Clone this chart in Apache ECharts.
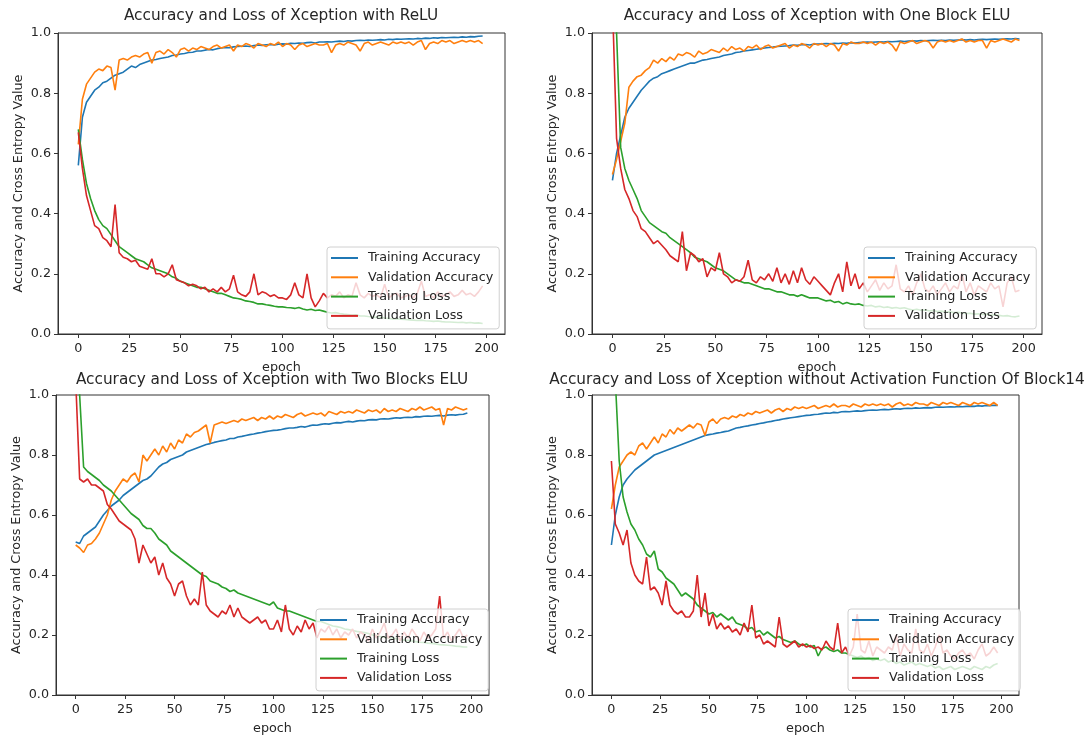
<!DOCTYPE html>
<html>
<head>
<meta charset="utf-8">
<script src="https://cdn.jsdelivr.net/npm/echarts@6.0.0/dist/echarts.min.js"></script>
<style>
  html, body { margin: 0; padding: 0; background: #fff; }
  #main { width: 1088px; height: 736px; }
</style>
</head>
<body>
<div id="main"></div>
<script>
var chart = echarts.init(document.getElementById('main'));

// epochs sampled every 2 (0..198)
var epochs = [];
for (var e = 0; e < 200; e += 2) epochs.push(e);
var xTicks = [0, 25, 50, 75, 100, 125, 150, 175, 200];
var seriesNames = ['Training Accuracy', 'Validation Accuracy', 'Training Loss', 'Validation Loss'];
var colors = ['#1f77b4', '#ff7f0e', '#2ca02c', '#d62728'];
var titles = [
    'Accuracy and Loss of Xception with ReLU',
    'Accuracy and Loss of Xception with One Block ELU',
    'Accuracy and Loss of Xception with Two Blocks ELU',
    'Accuracy and Loss of Xception without Activation Function Of Block14'
];

/****** ReLU ******/
var reluTrainAcc = [
    0.56, 0.72, 0.77, 0.79, 0.81, 0.82, 0.835, 0.84, 0.85, 0.86,
    0.865, 0.87, 0.88, 0.89, 0.885, 0.895, 0.90, 0.905, 0.91, 0.912,
    0.915, 0.918, 0.92, 0.925, 0.927, 0.93, 0.932, 0.935, 0.936, 0.94,
    0.94, 0.943, 0.945, 0.944, 0.948, 0.95, 0.952, 0.951, 0.954, 0.955,
    0.956, 0.957, 0.955, 0.958, 0.96, 0.959, 0.961, 0.962, 0.96, 0.963,
    0.964, 0.963, 0.966, 0.965, 0.967, 0.966, 0.968, 0.969, 0.967, 0.97,
    0.97, 0.971, 0.97, 0.972, 0.973, 0.972, 0.974, 0.973, 0.975, 0.976,
    0.975, 0.977, 0.976, 0.977, 0.978, 0.977, 0.979, 0.978, 0.98, 0.979,
    0.98, 0.981, 0.98, 0.982, 0.981, 0.983, 0.982, 0.984, 0.983, 0.985,
    0.984, 0.985, 0.986, 0.985, 0.987, 0.986, 0.988, 0.987, 0.989, 0.99
];
var reluValAcc = [
    0.63, 0.78, 0.83, 0.85, 0.87, 0.88, 0.875, 0.89, 0.885, 0.81,
    0.91, 0.915, 0.91, 0.92, 0.925, 0.92, 0.93, 0.935, 0.90, 0.935,
    0.94, 0.93, 0.945, 0.935, 0.92, 0.945, 0.95, 0.94, 0.95, 0.945,
    0.955, 0.95, 0.945, 0.955, 0.96, 0.95, 0.955, 0.96, 0.94, 0.96,
    0.955, 0.965, 0.96, 0.95, 0.965, 0.96, 0.955, 0.965, 0.96, 0.97,
    0.955, 0.965, 0.96, 0.945, 0.96, 0.965, 0.955, 0.96, 0.965, 0.96,
    0.96, 0.965, 0.935, 0.96, 0.965, 0.96, 0.97, 0.965, 0.96, 0.94,
    0.965, 0.97, 0.96, 0.965, 0.97, 0.965, 0.96, 0.97, 0.965, 0.97,
    0.965, 0.97, 0.96, 0.97, 0.975, 0.945, 0.965, 0.97, 0.965, 0.975,
    0.97, 0.975, 0.965, 0.97, 0.975, 0.97, 0.975, 0.97, 0.975, 0.965
];
var reluTrainLoss = [
    0.68, 0.58, 0.5, 0.45, 0.41, 0.38, 0.36, 0.35, 0.33, 0.31,
    0.29, 0.28, 0.27, 0.26, 0.25, 0.245, 0.24, 0.23, 0.22, 0.215,
    0.21, 0.205, 0.2, 0.19, 0.185, 0.175, 0.17, 0.165, 0.16, 0.155,
    0.155, 0.15, 0.145, 0.14, 0.135, 0.135, 0.13, 0.125, 0.12, 0.118,
    0.115, 0.11, 0.108, 0.105, 0.1, 0.1, 0.097, 0.095, 0.092, 0.09,
    0.09, 0.088, 0.087, 0.085, 0.088, 0.083, 0.08, 0.082, 0.078, 0.08,
    0.076, 0.072, 0.07, 0.071, 0.068, 0.066, 0.065, 0.063, 0.064, 0.06,
    0.06, 0.058, 0.057, 0.055, 0.056, 0.053, 0.052, 0.05, 0.051, 0.049,
    0.048, 0.047, 0.046, 0.045, 0.046, 0.044, 0.043, 0.042, 0.043, 0.041,
    0.04, 0.04, 0.039, 0.038, 0.039, 0.037, 0.038, 0.036, 0.037, 0.035
];
var reluValLoss = [
    0.67, 0.55, 0.46, 0.41, 0.36, 0.35, 0.32, 0.31, 0.29, 0.43,
    0.27, 0.255, 0.25, 0.24, 0.245, 0.225, 0.22, 0.215, 0.25, 0.2,
    0.2, 0.19, 0.2, 0.23, 0.18, 0.175, 0.17, 0.16, 0.165, 0.16,
    0.15, 0.155, 0.14, 0.15, 0.14, 0.155, 0.14, 0.15, 0.195, 0.14,
    0.13, 0.125, 0.14, 0.2, 0.13, 0.14, 0.135, 0.125, 0.13, 0.12,
    0.12, 0.115, 0.13, 0.17, 0.13, 0.12, 0.2, 0.12, 0.09, 0.11,
    0.135, 0.12, 0.13, 0.125, 0.14, 0.12, 0.13, 0.125, 0.17, 0.13,
    0.12, 0.135, 0.125, 0.13, 0.12, 0.165, 0.12, 0.13, 0.135, 0.12,
    0.125, 0.13, 0.12, 0.135, 0.175, 0.125, 0.13, 0.12, 0.14, 0.125,
    0.13, 0.14, 0.125, 0.13, 0.145, 0.13, 0.135, 0.125, 0.14, 0.16
];

/****** One Block ELU ******/
var elu1TrainAcc = [
    0.51, 0.6, 0.66, 0.72, 0.75, 0.77, 0.79, 0.81, 0.825, 0.84,
    0.85, 0.855, 0.865, 0.87, 0.875, 0.88, 0.885, 0.89, 0.895, 0.9,
    0.9, 0.905, 0.91, 0.912, 0.915, 0.918, 0.92, 0.925, 0.928, 0.93,
    0.935, 0.937, 0.94, 0.942, 0.944, 0.946, 0.948, 0.95, 0.952, 0.953,
    0.955, 0.956, 0.957, 0.958, 0.96, 0.959, 0.961, 0.962, 0.96, 0.963,
    0.963, 0.964, 0.965, 0.964, 0.966, 0.965, 0.967, 0.966, 0.968, 0.967,
    0.968, 0.969, 0.97, 0.969, 0.97, 0.971, 0.97, 0.972, 0.971, 0.972,
    0.973, 0.972, 0.973, 0.974, 0.973, 0.975, 0.974, 0.975, 0.976, 0.975,
    0.976, 0.975, 0.977, 0.976, 0.977, 0.978, 0.977, 0.978, 0.977, 0.978,
    0.979, 0.978, 0.979, 0.98, 0.979, 0.98, 0.981, 0.98, 0.982, 0.98
];
var elu1ValAcc = [
    0.53, 0.58, 0.64, 0.7, 0.82, 0.84, 0.855, 0.86, 0.875, 0.885,
    0.91, 0.9, 0.915, 0.905, 0.92, 0.91, 0.93, 0.925, 0.935, 0.93,
    0.92, 0.94, 0.93, 0.935, 0.945, 0.94, 0.935, 0.95, 0.94, 0.955,
    0.945, 0.95, 0.94, 0.955, 0.95, 0.96, 0.945, 0.955, 0.96, 0.95,
    0.955, 0.96, 0.965, 0.95, 0.96, 0.955, 0.965, 0.96, 0.95, 0.965,
    0.96, 0.965, 0.955, 0.965, 0.96, 0.94, 0.965, 0.96, 0.97, 0.965,
    0.965, 0.97, 0.965, 0.97, 0.96, 0.97, 0.965, 0.97, 0.96, 0.94,
    0.97, 0.965, 0.97, 0.975, 0.965, 0.97, 0.975, 0.97, 0.95, 0.97,
    0.975, 0.97, 0.975, 0.97, 0.975, 0.98, 0.97, 0.975, 0.97, 0.975,
    0.975, 0.95, 0.975, 0.97, 0.975, 0.98, 0.975, 0.97, 0.98, 0.975
];
var elu1TrainLoss = [
    2.5, 1.0, 0.62, 0.55, 0.51, 0.48, 0.45, 0.41, 0.39, 0.37,
    0.36, 0.35, 0.34, 0.335, 0.32, 0.31, 0.3, 0.29, 0.28, 0.27,
    0.255, 0.25, 0.245, 0.24, 0.23, 0.22, 0.215, 0.21, 0.2, 0.19,
    0.18, 0.175, 0.17, 0.17, 0.165, 0.16, 0.155, 0.15, 0.15, 0.145,
    0.14, 0.14, 0.135, 0.13, 0.13, 0.125, 0.13, 0.125, 0.12, 0.12,
    0.12, 0.115, 0.11, 0.112, 0.105, 0.108, 0.1, 0.105, 0.1, 0.098,
    0.1, 0.095, 0.093, 0.095, 0.09, 0.092, 0.088, 0.09, 0.086, 0.088,
    0.085, 0.087, 0.083, 0.08, 0.082, 0.079, 0.08, 0.077, 0.078, 0.075,
    0.076, 0.073, 0.074, 0.071, 0.072, 0.07, 0.068, 0.069, 0.066, 0.067,
    0.065, 0.066, 0.063, 0.064, 0.062, 0.06, 0.061, 0.058, 0.057, 0.06
];
var elu1ValLoss = [
    1.1, 0.65, 0.55, 0.48, 0.45, 0.41, 0.39, 0.35, 0.34, 0.32,
    0.3, 0.31, 0.295, 0.28, 0.26, 0.25, 0.24, 0.34, 0.21, 0.27,
    0.26, 0.24, 0.25, 0.19, 0.22, 0.21, 0.27, 0.2, 0.19, 0.17,
    0.18, 0.175, 0.19, 0.245, 0.18, 0.17, 0.19, 0.18, 0.2, 0.175,
    0.22, 0.17, 0.2, 0.165, 0.21, 0.17, 0.22, 0.18, 0.165, 0.19,
    0.175, 0.16, 0.145, 0.13, 0.17, 0.2, 0.14, 0.24, 0.16, 0.2,
    0.15, 0.17, 0.14, 0.16, 0.18, 0.145, 0.17, 0.15, 0.16, 0.23,
    0.15, 0.14, 0.16, 0.13, 0.17, 0.2, 0.15, 0.14, 0.16, 0.13,
    0.15, 0.17, 0.14, 0.16, 0.15, 0.2, 0.14, 0.17, 0.13, 0.16,
    0.15, 0.14, 0.17, 0.15, 0.16, 0.09, 0.17, 0.19, 0.14, 0.145
];

/****** Two Blocks ELU ******/
var elu2TrainAcc = [
    0.51, 0.505, 0.53, 0.54, 0.55, 0.56, 0.58, 0.6, 0.615, 0.63,
    0.64, 0.65, 0.665, 0.675, 0.685, 0.695, 0.705, 0.715, 0.72, 0.73,
    0.745, 0.76, 0.77, 0.775, 0.785, 0.79, 0.795, 0.8, 0.81, 0.815,
    0.82, 0.825, 0.83, 0.835, 0.838, 0.842, 0.845, 0.848, 0.85, 0.855,
    0.855, 0.86, 0.862, 0.865, 0.868, 0.87, 0.873, 0.875, 0.878, 0.88,
    0.882, 0.883, 0.885, 0.888, 0.89, 0.89, 0.892, 0.895, 0.893, 0.897,
    0.9, 0.899, 0.902, 0.904, 0.903, 0.906, 0.908, 0.907, 0.91, 0.912,
    0.91, 0.913, 0.915, 0.914, 0.917, 0.918, 0.917, 0.92, 0.921, 0.92,
    0.922, 0.924, 0.923, 0.925, 0.926, 0.925, 0.928, 0.927, 0.929, 0.93,
    0.929, 0.931, 0.932, 0.93, 0.933, 0.934, 0.933, 0.935, 0.936, 0.94
];
var elu2ValAcc = [
    0.5, 0.49, 0.475, 0.5, 0.505, 0.52, 0.54, 0.57, 0.6, 0.65,
    0.68, 0.7, 0.72, 0.71, 0.73, 0.74, 0.71, 0.8, 0.78, 0.8,
    0.82, 0.8, 0.83, 0.81, 0.84, 0.82, 0.85, 0.84, 0.87, 0.86,
    0.875, 0.88, 0.89, 0.9, 0.84, 0.9, 0.905, 0.91, 0.905, 0.91,
    0.915, 0.91, 0.92, 0.915, 0.92, 0.925, 0.915, 0.925, 0.92, 0.93,
    0.92, 0.93, 0.925, 0.935, 0.93, 0.925, 0.935, 0.94, 0.93, 0.935,
    0.94, 0.935, 0.94, 0.93, 0.945, 0.94, 0.935, 0.945, 0.94, 0.945,
    0.94, 0.95, 0.945, 0.94, 0.95, 0.945, 0.95, 0.94, 0.955, 0.945,
    0.95, 0.945, 0.955, 0.95, 0.945, 0.955, 0.95, 0.96, 0.95, 0.955,
    0.96, 0.95, 0.955, 0.9, 0.955, 0.95, 0.96, 0.955, 0.95, 0.955
];
var elu2TrainLoss = [
    1.8, 1.0, 0.76, 0.745, 0.735, 0.725, 0.715, 0.7, 0.69, 0.68,
    0.665, 0.65, 0.635, 0.62, 0.605, 0.595, 0.585, 0.565, 0.555, 0.555,
    0.54, 0.52, 0.51, 0.5, 0.48, 0.47, 0.46, 0.45, 0.44, 0.43,
    0.42, 0.41, 0.4, 0.395, 0.38, 0.375, 0.37, 0.36, 0.355, 0.345,
    0.35, 0.34, 0.335, 0.33, 0.325, 0.32, 0.315, 0.31, 0.305, 0.3,
    0.31, 0.29, 0.285, 0.28, 0.28, 0.275, 0.27, 0.265, 0.26, 0.255,
    0.25, 0.245, 0.245, 0.24, 0.235, 0.23, 0.228, 0.225, 0.22, 0.218,
    0.215, 0.212, 0.21, 0.208, 0.205, 0.2, 0.198, 0.195, 0.193, 0.19,
    0.19, 0.188, 0.186, 0.183, 0.182, 0.18, 0.178, 0.176, 0.175, 0.173,
    0.172, 0.17, 0.168, 0.167, 0.166, 0.165, 0.163, 0.162, 0.16, 0.16
];
var elu2ValLoss = [
    1.05, 0.72, 0.71, 0.72, 0.7, 0.7, 0.69, 0.68, 0.635, 0.62,
    0.6, 0.58, 0.57, 0.56, 0.55, 0.52, 0.44, 0.5, 0.47, 0.44,
    0.46, 0.4, 0.44, 0.39, 0.37, 0.33, 0.37, 0.38, 0.33, 0.3,
    0.32, 0.3, 0.41, 0.3, 0.28, 0.27, 0.26, 0.28, 0.27, 0.3,
    0.26, 0.29, 0.26, 0.25, 0.24, 0.25, 0.26, 0.24, 0.25, 0.22,
    0.22, 0.25, 0.21, 0.3, 0.22, 0.2, 0.23, 0.21, 0.25, 0.22,
    0.24, 0.19, 0.22, 0.21, 0.23, 0.2, 0.22, 0.19, 0.21, 0.2,
    0.22, 0.19, 0.21, 0.2, 0.18, 0.22, 0.19, 0.21, 0.24, 0.19,
    0.2, 0.22, 0.18, 0.21, 0.19, 0.22, 0.2, 0.18, 0.21, 0.19,
    0.2, 0.22, 0.33, 0.19, 0.21, 0.18, 0.2, 0.22, 0.19, 0.2
];

/****** without activation of Block14 ******/
var noActTrainAcc = [
    0.5, 0.6, 0.66, 0.7, 0.72, 0.735, 0.75, 0.76, 0.77, 0.78,
    0.79, 0.8, 0.805, 0.81, 0.815, 0.82, 0.825, 0.83, 0.835, 0.84,
    0.845, 0.85, 0.855, 0.86, 0.865, 0.868, 0.87, 0.873, 0.875, 0.878,
    0.88, 0.885, 0.89, 0.892, 0.895, 0.897, 0.9, 0.902, 0.905, 0.907,
    0.91, 0.912, 0.915, 0.917, 0.92, 0.922, 0.924, 0.926, 0.928, 0.93,
    0.932, 0.933, 0.935, 0.936, 0.938, 0.94, 0.939, 0.942, 0.941, 0.944,
    0.945, 0.944, 0.946, 0.947, 0.946, 0.948, 0.949, 0.95, 0.949, 0.951,
    0.952, 0.951, 0.953, 0.954, 0.953, 0.955, 0.956, 0.955, 0.957, 0.956,
    0.957, 0.958, 0.957, 0.959, 0.96, 0.959, 0.96, 0.961, 0.96, 0.962,
    0.961, 0.962, 0.963, 0.962, 0.964, 0.963, 0.965, 0.964, 0.966, 0.965
];
var noActValAcc = [
    0.62, 0.7, 0.76, 0.78, 0.8, 0.81, 0.8, 0.83, 0.84, 0.82,
    0.84, 0.86, 0.84, 0.87, 0.86, 0.885, 0.87, 0.89, 0.88, 0.89,
    0.9, 0.89, 0.905, 0.9, 0.865, 0.91, 0.92, 0.905, 0.92, 0.925,
    0.92, 0.93, 0.925, 0.935, 0.93, 0.94, 0.935, 0.945, 0.94, 0.945,
    0.95, 0.94, 0.95, 0.955, 0.945, 0.955, 0.95, 0.96, 0.955, 0.96,
    0.955, 0.96, 0.965, 0.955, 0.96, 0.965, 0.96, 0.97, 0.96, 0.965,
    0.965, 0.96, 0.97, 0.965, 0.96, 0.97, 0.965, 0.97, 0.965, 0.97,
    0.965, 0.97, 0.96, 0.97, 0.975, 0.965, 0.97, 0.965, 0.975, 0.97,
    0.97, 0.965, 0.975, 0.97, 0.965, 0.975, 0.97, 0.975, 0.97, 0.965,
    0.975, 0.97, 0.965, 0.975, 0.97, 0.975, 0.97, 0.965, 0.975, 0.965
];
var noActTrainLoss = [
    1.6, 1.05, 0.78, 0.66, 0.61, 0.57, 0.55, 0.52, 0.5, 0.47,
    0.46, 0.48, 0.42, 0.41, 0.39, 0.38, 0.37, 0.35, 0.33, 0.34,
    0.33, 0.32, 0.3, 0.29, 0.28, 0.27, 0.275, 0.26, 0.27, 0.26,
    0.25, 0.26, 0.24, 0.235, 0.23, 0.22, 0.225, 0.21, 0.215, 0.2,
    0.21, 0.2, 0.19, 0.195, 0.185, 0.18, 0.175, 0.18, 0.17, 0.165,
    0.17, 0.16, 0.165, 0.13, 0.155, 0.16, 0.15, 0.145, 0.15, 0.14,
    0.14, 0.135, 0.13, 0.125, 0.13, 0.12, 0.125, 0.115, 0.12, 0.115,
    0.12, 0.11, 0.115, 0.105, 0.11, 0.1, 0.105, 0.11, 0.1, 0.105,
    0.1, 0.095, 0.1, 0.09, 0.095, 0.085, 0.09, 0.095, 0.085, 0.09,
    0.095, 0.09, 0.085, 0.095, 0.09, 0.085, 0.095, 0.09, 0.1, 0.105
];
var noActValLoss = [
    0.78, 0.57, 0.54, 0.5, 0.55, 0.44, 0.4, 0.38, 0.37, 0.46,
    0.35, 0.36, 0.34, 0.3, 0.38, 0.3, 0.28, 0.27, 0.28, 0.26,
    0.26, 0.28, 0.4, 0.26, 0.34, 0.23, 0.27, 0.22, 0.24, 0.22,
    0.23, 0.21, 0.22, 0.2, 0.24, 0.21, 0.3, 0.19, 0.2, 0.17,
    0.18, 0.17, 0.16, 0.26, 0.17, 0.16, 0.17, 0.18, 0.16, 0.17,
    0.16, 0.165, 0.155, 0.16, 0.15, 0.18, 0.16, 0.15, 0.24, 0.14,
    0.16, 0.13, 0.16, 0.27, 0.15, 0.14, 0.18, 0.13, 0.16, 0.15,
    0.14, 0.16, 0.15, 0.2, 0.13, 0.17, 0.15, 0.14, 0.22, 0.15,
    0.14, 0.17, 0.13, 0.16, 0.2, 0.14, 0.15, 0.13, 0.12, 0.14,
    0.15, 0.13, 0.14, 0.12, 0.15, 0.17, 0.13, 0.14, 0.16, 0.14
];

var panelData = [
    [reluTrainAcc, reluValAcc, reluTrainLoss, reluValLoss],
    [elu1TrainAcc, elu1ValAcc, elu1TrainLoss, elu1ValLoss],
    [elu2TrainAcc, elu2ValAcc, elu2TrainLoss, elu2ValLoss],
    [noActTrainAcc, noActValAcc, noActTrainLoss, noActValLoss]
];

// layout of the 2x2 panels
var grids = [
    { left: 58, top: 33, width: 447, height: 301 },
    { left: 592, top: 33, width: 450, height: 301 },
    { left: 56, top: 395, width: 433, height: 302 },
    { left: 592, top: 395, width: 427, height: 302 }
];
var titlePos = [[281, 9], [817, 9], [272, 373], [817, 373]];
var legendPos = [[327, 247], [864, 247], [316, 609], [848, 609]];

var font = 'DejaVu Sans';
var fontSize = 12.75;
var textColor = '#262626';
var axisColor = '#333';

function pairs(vals) {
    return vals.map(function (v, i) { return [epochs[i], v]; });
}

var option = {
    animation: false,
    backgroundColor: '#fff',
    title: [],
    legend: [],
    grid: [],
    xAxis: [],
    yAxis: [],
    series: []
};

for (var p = 0; p < 4; p++) {
    var g = grids[p];
    option.grid.push({
        left: g.left, top: g.top, width: g.width, height: g.height,
        show: true, borderColor: axisColor, borderWidth: 1,
        backgroundColor: 'transparent'
    });
    option.title.push({
        text: titles[p],
        left: titlePos[p][0],
        top: titlePos[p][1],
        textAlign: 'center',
        padding: 0,
        textStyle: { fontFamily: font, fontSize: 15.3, fontWeight: 'normal', color: textColor }
    });
    option.legend.push({
        data: seriesNames,
        orient: 'vertical',
        left: legendPos[p][0],
        top: legendPos[p][1],
        icon: 'rect',
        itemWidth: 27,
        itemHeight: 2,
        itemGap: 4.3,
        padding: [3.5, 6, 5.5, 4],
        backgroundColor: 'rgba(255,255,255,0.8)',
        borderColor: '#d0d0d0',
        borderWidth: 1,
        borderRadius: 3,
        selectedMode: false,
        textStyle: {
            fontFamily: font, fontSize: fontSize, lineHeight: 15,
            color: textColor, padding: [0, 0, 0, 5]
        }
    });
    option.xAxis.push({
        type: 'value',
        gridIndex: p,
        min: -9.95,
        max: 208.95,
        name: 'epoch',
        nameLocation: 'middle',
        nameGap: 27,
        nameTextStyle: { fontFamily: font, fontSize: fontSize, color: textColor },
        axisLine: { show: true, onZero: false, lineStyle: { color: axisColor, width: 1 } },
        axisTick: { show: true, length: 4, customValues: xTicks, lineStyle: { color: axisColor } },
        axisLabel: { customValues: xTicks, margin: 8, fontFamily: font, fontSize: fontSize, color: textColor },
        splitLine: { show: false }
    });
    option.yAxis.push({
        type: 'value',
        gridIndex: p,
        min: 0,
        max: 1,
        interval: 0.2,
        name: 'Accuracy and Cross Entropy Value',
        nameLocation: 'middle',
        nameRotate: 90,
        nameGap: 33,
        nameTextStyle: { fontFamily: font, fontSize: fontSize, color: textColor },
        axisLine: { show: true, onZero: false, lineStyle: { color: axisColor, width: 1 } },
        axisTick: { show: true, length: 4, lineStyle: { color: axisColor } },
        axisLabel: {
            margin: 7, fontFamily: font, fontSize: fontSize, color: textColor,
            formatter: function (v) { return v.toFixed(1); }
        },
        splitLine: { show: false }
    });
    for (var s = 0; s < 4; s++) {
        option.series.push({
            type: 'line',
            name: seriesNames[s],
            xAxisIndex: p,
            yAxisIndex: p,
            data: pairs(panelData[p][s]),
            symbol: 'none',
            clip: true,
            lineStyle: { width: 1.6, color: colors[s] },
            itemStyle: { color: colors[s] }
        });
    }
}

chart.setOption(option);
</script>
</body>
</html>
